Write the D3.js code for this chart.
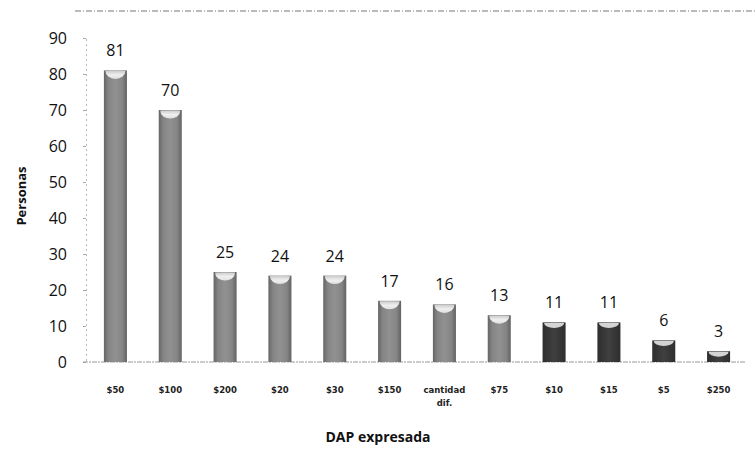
<!DOCTYPE html>
<html><head><meta charset="utf-8">
<script src="https://cdn.jsdelivr.net/npm/d3@7"></script>
<style>body{margin:0;background:#fff}svg{display:block}</style>
</head><body>
<script>
const categories = ["$50","$100","$200","$20","$30","$150","cantidad dif.","$75","$10","$15","$5","$250"];
const values = [81,70,25,24,24,17,16,13,11,11,6,3];
const darkGroup = [false,false,false,false,false,false,false,false,true,true,true,true];
const yTicks = [0,10,20,30,40,50,60,70,80,90];

const W=755,H=454;
const m={left:86,right:9,top:38,bottom:92};
const svg=d3.select("body").append("svg").attr("width",W).attr("height",H);
const defs=svg.append("defs");
const gl=defs.append("linearGradient").attr("id","gLight");
[[0,"#666"],[0.2,"#858585"],[0.5,"#919191"],[0.8,"#858585"],[1,"#626262"]].forEach(([o,c])=>gl.append("stop").attr("offset",o).attr("stop-color",c));
const gd=defs.append("linearGradient").attr("id","gDark");
[[0,"#2e2e2e"],[0.5,"#404040"],[1,"#2e2e2e"]].forEach(([o,c])=>gd.append("stop").attr("offset",o).attr("stop-color",c));
const gt=defs.append("linearGradient").attr("id","gTop").attr("x1",0).attr("x2",0).attr("y1",0).attr("y2",1);
[[0,"#cfcfcf"],[0.5,"#f4f4f4"],[1,"#e4e4e4"]].forEach(([o,c])=>gt.append("stop").attr("offset",o).attr("stop-color",c));

const x=d3.scaleBand().domain(categories).range([88,W-m.right]).paddingInner(0.58).paddingOuter(0.29);
const y=d3.scaleLinear().domain([0,90]).range([H-m.bottom,m.top]);

// top dotted border
svg.append("line").attr("x1",75).attr("x2",W).attr("y1",11).attr("y2",11)
  .attr("stroke","#777").attr("stroke-width",1).attr("stroke-dasharray","6,2,1,2");

// y axis
const ya=svg.append("g").attr("transform",`translate(${m.left},0)`)
  .call(d3.axisLeft(y).tickValues(yTicks).tickSize(3).tickPadding(16));
ya.select(".domain").attr("stroke","#bbb").attr("stroke-dasharray","2,3");
ya.selectAll(".tick line").attr("stroke","#aaa");
ya.selectAll("text").attr("font-family","Open Sans, sans-serif").attr("font-size",16).attr("fill","#111");

// x axis
svg.append("line").attr("x1",83).attr("x2",W-m.right).attr("y1",y(0)).attr("y2",y(0))
  .attr("stroke","#999").attr("stroke-dasharray","5,1,2,1");

const lab=svg.append("g");
categories.forEach(c=>{
  const parts=c.split(" ");
  const t=lab.append("text").attr("x",x(c)+x.bandwidth()/2).attr("y",393)
    .attr("text-anchor","middle").attr("font-family","DejaVu Sans, sans-serif")
    .attr("font-weight","bold").attr("font-size",8.5).attr("fill","#222");
  parts.forEach((p,i)=>t.append("tspan").attr("x",x(c)+x.bandwidth()/2).attr("dy",i?13:0).text(p));
});

// bars
const bars=svg.append("g").selectAll("g").data(categories).join("g");
bars.append("rect")
  .attr("x",d=>x(d)).attr("width",x.bandwidth())
  .attr("y",(d,i)=>y(values[i])).attr("height",(d,i)=>y(0)-y(values[i]))
  .attr("fill",(d,i)=>darkGroup[i]?"url(#gDark)":"url(#gLight)");
bars.append("path")
  .attr("d",(d,i)=>{
    const x0=x(d)+1.5, x1=x(d)+x.bandwidth()-1.5, t=y(values[i])+0.5;
    const ry=Math.min(darkGroup[i]?5:8,(y(0)-y(values[i]))*0.6);
    return `M${x0},${t} L${x1},${t} A${(x1-x0)/2},${ry} 0 0 1 ${x0},${t} Z`;
  })
  .attr("fill",(d,i)=>darkGroup[i]?"#dcdcdc":"url(#gTop)").attr("opacity",0.95);
bars.append("text")
  .attr("x",d=>x(d)+x.bandwidth()/2).attr("y",(d,i)=>y(values[i])-14)
  .attr("text-anchor","middle").attr("font-family","Open Sans, sans-serif")
  .attr("font-size",16).attr("fill","#111").text((d,i)=>values[i]);

// titles
svg.append("text").attr("x",378).attr("y",442).attr("text-anchor","middle")
  .attr("font-family","Open Sans, sans-serif").attr("font-weight","bold").attr("font-size",14).attr("fill","#111")
  .text("DAP expresada");
svg.append("text").attr("transform","translate(26,196) rotate(-90)").attr("text-anchor","middle")
  .attr("font-family","Open Sans, sans-serif").attr("font-weight","bold").attr("font-size",13).attr("fill","#111")
  .text("Personas");
</script>
</body></html>
